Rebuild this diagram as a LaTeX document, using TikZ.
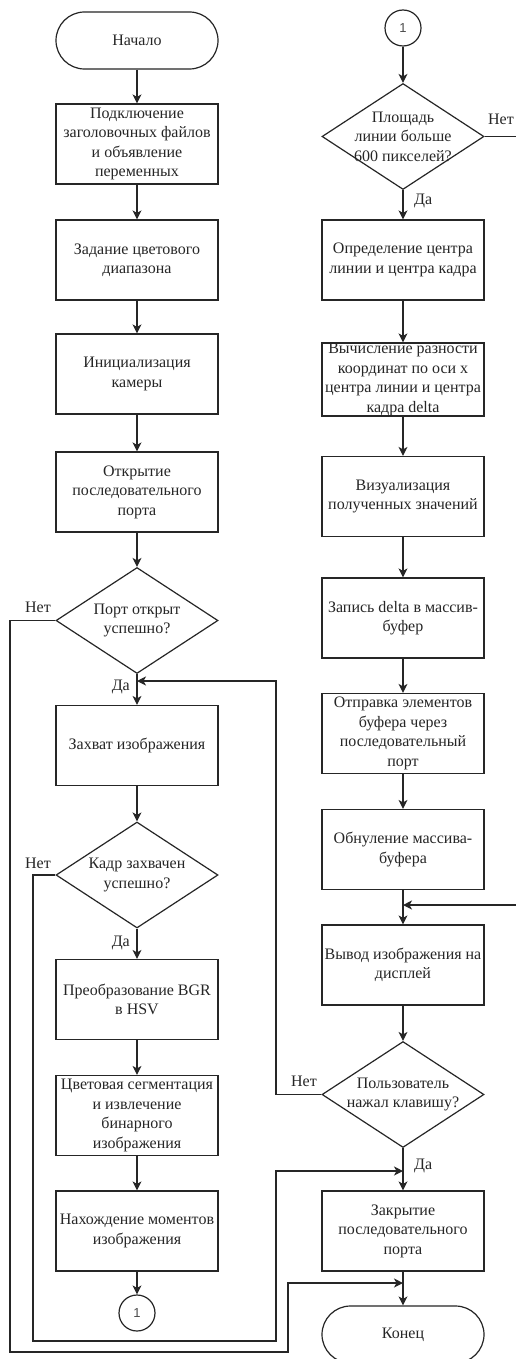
\documentclass[tikz,border=0pt]{standalone}
\usepackage{fontspec}
\setmainfont{Liberation Serif}
\newfontfamily\numfont{Liberation Sans}
\usetikzlibrary{shapes.geometric,arrows.meta}

\tikzset{
  every node/.style={font=\fontsize{16}{19.5}\selectfont, text=black!85},
  proc/.style={draw=black!85, line width=1.2pt, minimum width=162pt, minimum height=80pt, inner sep=0pt, align=center},
  term/.style={proc, minimum height=57pt, rounded corners=28.5pt},
  dec/.style={draw=black!85, line width=1.2pt, diamond, minimum width=162pt, minimum height=106pt, inner sep=0pt},
  dtext/.style={align=center, inner sep=0pt},
  conn/.style={circle, draw=black!85, line width=1.2pt, minimum size=36pt, inner sep=0pt, font=\numfont\fontsize{13}{15}\selectfont, text=black!70},
  flow/.style={draw=black!85, line width=1.2pt, -{Stealth[length=9pt,width=9pt,inset=2.5pt]}},
  lab/.style={inner sep=0pt}
}

\begin{document}
\begin{tikzpicture}[x=1pt,y=-1pt]
  \useasboundingbox (0,0) rectangle (516,1359);
  \fill[white] (0,0) rectangle (516,1359);
  \clip (0,0) rectangle (516,1359);

  % left column
  \node[term] (start) at (137,40.5) {Начало};
  \node[proc] (b1) at (137,144) {Подключение\\заголовочных файлов\\и объявление\\переменных};
  \node[proc] (b2) at (137,260) {Задание цветового\\диапазона};
  \node[proc] (b3) at (137,374) {Инициализация\\камеры};
  \node[proc] (b4) at (137,492) {Открытие\\последовательного\\порта};
  \node[dec, label={[dtext]center:{Порт открыт\\успешно?}}] (d1) at (137,620.5) {};
  \node[proc] (b5) at (137,745.5) {Захват изображения};
  \node[dec, label={[dtext]center:{Кадр захвачен\\успешно?}}] (d2) at (137,875) {};
  \node[proc] (b6) at (137,999.5) {Преобразование BGR\\в HSV};
  \node[proc] (b7) at (137,1115.5) {Цветовая сегментация\\и извлечение\\бинарного\\изображения};
  \node[proc] (b8) at (137,1231) {Нахождение моментов\\изображения};
  \node[conn] (c1) at (137,1313) {1};

  % right column
  \node[conn] (c2) at (403,28) {1};
  \node[dec, label={[dtext]center:{Площадь\\линии больше\\600 пикселей?}}] (d3) at (403,136.5) {};
  \node[proc] (r1) at (403,260) {Определение центра\\линии и центра кадра};
  \node[proc, minimum height=73pt] (r2) at (403,379.5) {Вычисление разности\\координат по оси x\\центра линии и центра\\кадра delta};
  \node[proc] (r3) at (403,496.5) {Визуализация\\полученных значений};
  \node[proc] (r4) at (403,618) {Запись delta в массив-\\буфер};
  \node[proc] (r5) at (403,733.5) {Отправка элементов\\буфера через\\последовательный\\порт};
  \node[proc] (r6) at (403,849.5) {Обнуление массива-\\буфера};
  \node[proc] (r7) at (403,965) {Вывод изображения на\\дисплей};
  \node[dec, label={[dtext]center:{Пользователь\\нажал клавишу?}}] (d4) at (403,1094.5) {};
  \node[proc] (r8) at (403,1231) {Закрытие\\последовательного\\порта};
  \node[term] (end) at (403,1334.5) {Конец};

  % junction points on vertical flows
  \coordinate (jloop) at (137,681);
  \coordinate (jdisp) at (403,905);
  \coordinate (jclose) at (403,1171);
  \coordinate (jend) at (403,1283);

  % straight flows
  \draw[flow] (start) -- (b1);
  \draw[flow] (b1) -- (b2);
  \draw[flow] (b2) -- (b3);
  \draw[flow] (b3) -- (b4);
  \draw[flow] (b4) -- (d1);
  \draw[flow] (d1) -- (b5);
  \draw[flow] (b5) -- (d2);
  \draw[flow] (d2) -- (b6);
  \draw[flow] (b6) -- (b7);
  \draw[flow] (b7) -- (b8);
  \draw[flow] (b8) -- (c1);

  \draw[flow] (c2) -- (d3);
  \draw[flow] (d3) -- (r1);
  \draw[flow] (r1) -- (r2);
  \draw[flow] (r2) -- (r3);
  \draw[flow] (r3) -- (r4);
  \draw[flow] (r4) -- (r5);
  \draw[flow] (r5) -- (r6);
  \draw[flow] (r6) -- (r7);
  \draw[flow] (r7) -- (d4);
  \draw[flow] (d4) -- (r8);
  \draw[flow] (r8) -- (end);

  % branches
  \draw[flow] (d1.west) -- (10,620.5) -- (10,1352) -- (288,1352) -- (288,1283) -- (jend);
  \draw[flow] (d2.west) -- (33,875) -- (33,1341) -- (276,1341) -- (276,1171) -- (jclose);
  \draw[flow] (d4.west) -- (276,1094.5) -- (276,681) -- (jloop);
  \draw[flow] (d3.east) -- (522,136.5) -- (522,905) -- (jdisp);

  % branch labels
  \node[lab] (n1) at (38,607.5) {Нет};
  \node[lab, anchor=east] (y1) at (130,687) {Да};
  \node[lab] (n2) at (38,863) {Нет};
  \node[lab, anchor=east] (y2) at (130,943) {Да};
  \node[lab] (n3) at (501,119) {Нет};
  \node[lab, anchor=west] (y3) at (414,201) {Да};
  \node[lab] (n4) at (304,1081) {Нет};
  \node[lab, anchor=west] (y4) at (414,1166) {Да};
\end{tikzpicture}
\end{document}
